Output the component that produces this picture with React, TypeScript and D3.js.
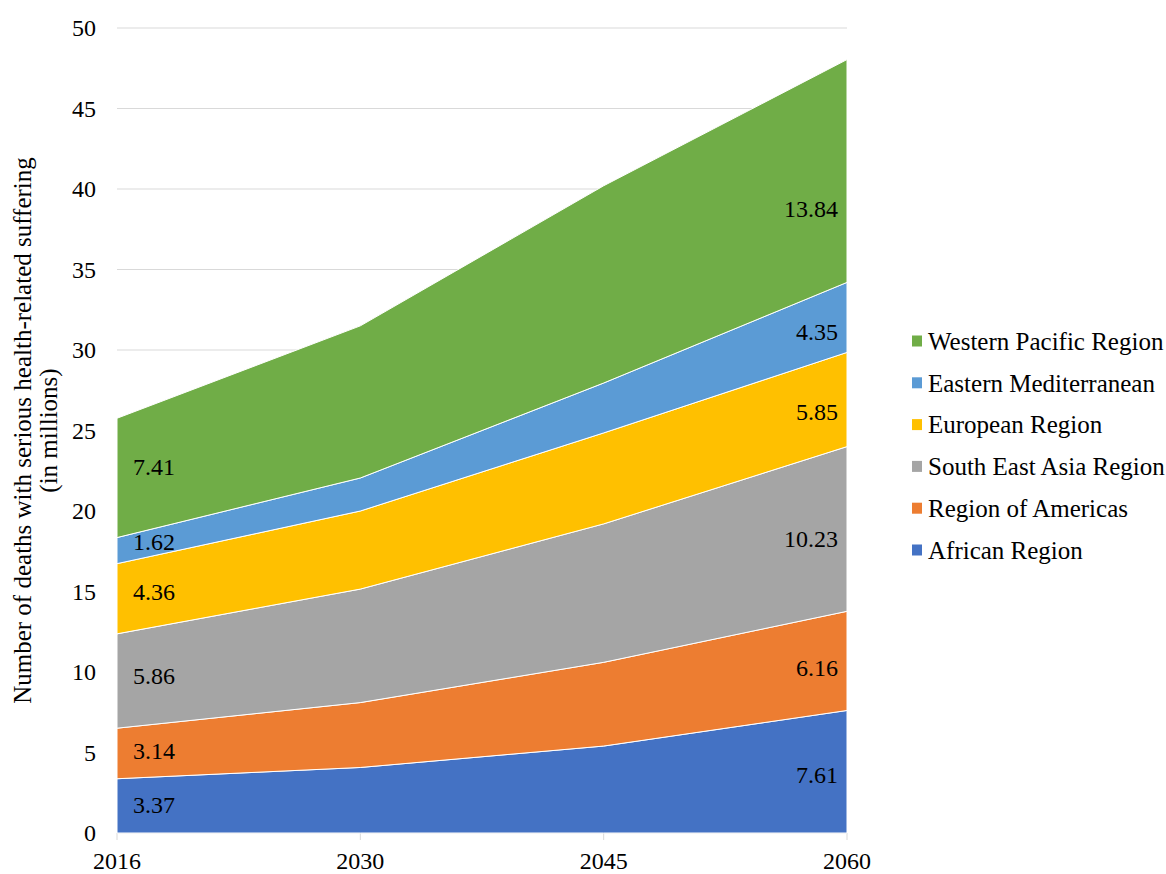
import React from "react";
import * as d3 from "d3";

const years = ["2016", "2030", "2045", "2060"];
const seriesNames = [
  "African Region",
  "Region of Americas",
  "South East Asia Region",
  "European Region",
  "Eastern Mediterranean",
  "Western Pacific Region",
];
const african = [3.37, 4.07, 5.4, 7.61];
const americas = [3.14, 4.03, 5.2, 6.16];
const southEastAsia = [5.86, 7.05, 8.6, 10.23];
const european = [4.36, 4.85, 5.65, 5.85];
const easternMed = [1.62, 2.05, 3.1, 4.35];
const westernPacific = [7.41, 9.45, 12.25, 13.84];
const seriesValues = [african, americas, southEastAsia, european, easternMed, westernPacific];
const colors = ["#4472c4", "#ed7d31", "#a5a5a5", "#ffc000", "#5b9bd5", "#70ad47"];
const yTicks = [0, 5, 10, 15, 20, 25, 30, 35, 40, 45, 50];

const W = 1166;
const H = 874;
const left = 117;
const right = 847;
const top = 28;
const bottom = 833;
const FONT = "Liberation Serif";

export default function App() {
  const x = d3.scalePoint<string>().domain(years).range([left, right]);
  const y = d3.scaleLinear().domain([0, 50]).range([bottom, top]);

  const rows = years.map((yr, i) => {
    const r: any = { year: yr };
    seriesNames.forEach((s, k) => (r[s] = seriesValues[k][i]));
    return r;
  });
  const stack = d3.stack<any>().keys(seriesNames)(rows);
  const area = d3
    .area<any>()
    .x((d) => x(d.data.year) as number)
    .y0((d) => y(d[0]))
    .y1((d) => y(d[1]));

  const interp = (layer: any, px: number, idx: 0 | 1) => {
    const xs = years.map((yr) => x(yr) as number);
    let i = 0;
    while (i < xs.length - 2 && px > xs[i + 1]) i++;
    const t = (px - xs[i]) / (xs[i + 1] - xs[i]);
    return layer[i][idx] + t * (layer[i + 1][idx] - layer[i][idx]);
  };

  const firstLabelX = 154;
  const lastLabelRight = 838;
  const lastLabelCenter = 810;
  const topLabelNudge = 20;
  const ts: React.CSSProperties = { fontFamily: FONT, fontSize: 24 };
  const tl: React.CSSProperties = { fontFamily: FONT, fontSize: 25 };

  return (
    <svg
      width={W}
      height={H}
      style={{ position: "absolute", left: 0, top: 0, background: "#fff", fontFamily: FONT }}
    >
      {yTicks.map((t) => (
        <g key={t}>
          <line x1={left} x2={right} y1={y(t)} y2={y(t)} stroke="#d9d9d9" strokeWidth={1} />
          <text x={96} y={y(t)} dy="0.35em" textAnchor="end" style={ts} fill="#000">
            {t}
          </text>
        </g>
      ))}
      {years.map((yr) => (
        <line key={yr} x1={x(yr)} x2={x(yr)} y1={bottom} y2={bottom + 7} stroke="#d9d9d9" />
      ))}
      {stack.map((layer, k) => (
        <path key={k} d={area(layer) as string} fill={colors[k]} stroke="#fff" strokeWidth={1} />
      ))}
      {stack.map((layer, k) => {
        const y0a = interp(layer, firstLabelX, 0);
        const y1a = interp(layer, firstLabelX, 1);
        const y0b = interp(layer, lastLabelCenter, 0);
        const y1b = interp(layer, lastLabelCenter, 1);
        const nudge = k === stack.length - 1 ? topLabelNudge : 0;
        return (
          <g key={"l" + k}>
            <text x={firstLabelX} y={y((y0a + y1a) / 2)} dy="0.35em" textAnchor="middle" style={ts} fill="#000">
              {seriesValues[k][0].toFixed(2)}
            </text>
            <text
              x={lastLabelRight}
              y={y((y0b + y1b) / 2) + nudge}
              dy="0.35em"
              textAnchor="end"
              style={ts}
              fill="#000"
            >
              {seriesValues[k][years.length - 1].toFixed(2)}
            </text>
          </g>
        );
      })}
      {years.map((yr) => (
        <text key={"x" + yr} x={x(yr)} y={869} textAnchor="middle" style={ts} fill="#000">
          {yr}
        </text>
      ))}
      <g transform={`translate(31, ${(top + bottom) / 2}) rotate(-90)`}>
        <text textAnchor="middle" style={tl} fill="#000">
          Number of deaths with serious health-related suffering
        </text>
      </g>
      <g transform={`translate(57, ${(top + bottom) / 2}) rotate(-90)`}>
        <text textAnchor="middle" style={tl} fill="#000">
          (in millions)
        </text>
      </g>
      {seriesNames
        .slice()
        .reverse()
        .map((s, i) => {
          const k = seriesNames.length - 1 - i;
          const cy = 341 + i * 41.8;
          return (
            <g key={"lg" + s}>
              <rect x={912} y={cy - 5.5} width={10} height={11} fill={colors[k]} />
              <text x={928} y={cy} dy="0.35em" style={tl} fill="#000">
                {s}
              </text>
            </g>
          );
        })}
    </svg>
  );
}
